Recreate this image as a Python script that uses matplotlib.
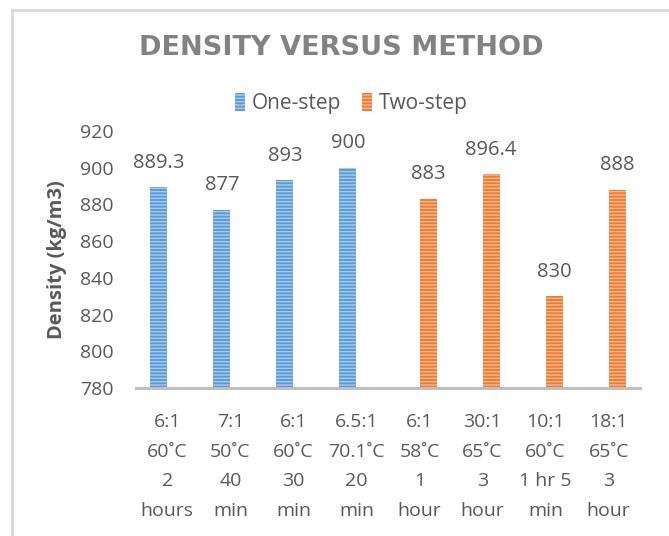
import matplotlib.pyplot as plt
import numpy as np

categories = ['6:1\n60˚C\n2\nhours', '7:1\n50˚C\n40\nmin', '6:1\n60˚C\n30\nmin',
              '6.5:1\n70.1˚C\n20\nmin', '6:1\n58˚C\n1\nhour', '30:1\n65˚C\n3\nhour',
              '10:1\n60˚C\n1 hr 5\nmin', '18:1\n65˚C\n3\nhour']
one_step = [889.3, 877, 893, 900, np.nan, np.nan, np.nan, np.nan]
two_step = [np.nan, np.nan, np.nan, np.nan, 883, 896.4, 830, 888]
y_ticks = [780, 800, 820, 840, 860, 880, 900, 920]

plt.rcParams['font.family'] = ['Open Sans', 'DejaVu Sans']
plt.rcParams['hatch.linewidth'] = 1.0

fig = plt.figure(figsize=(6.69, 5.36), dpi=100)
ax = fig.add_axes([0.203, 0.276, 0.754, 0.480])

x = np.arange(len(categories))
width = 0.27
text_color = '#595959'

bars1 = ax.bar(x - width / 2, one_step, width, color='#5B9BD5', edgecolor='#A8CBEC',
               hatch='-----', linewidth=0, label='One-step')
bars2 = ax.bar(x + width / 2, two_step, width, color='#ED7D31', edgecolor='#F6B891',
               hatch='-----', linewidth=0, label='Two-step')

# value labels above the bars
for bars, vals in [(bars1, one_step), (bars2, two_step)]:
    for bar, v in zip(bars, vals):
        if np.isnan(v):
            continue
        ax.annotate(f'{v:g}', xy=(bar.get_x() + bar.get_width() / 2, v),
                    xytext=(0, 10.5), textcoords='offset points',
                    ha='center', va='bottom', fontsize=14.5, color=text_color)

ax.set_ylim(780, 920)
ax.set_yticks(y_ticks)
ax.set_xlim(-0.5, len(categories) - 0.5)
ax.set_xticks(x)
ax.set_xticklabels(categories, linespacing=1.83)
ax.tick_params(axis='x', length=0, pad=18, labelsize=14, labelcolor=text_color)
ax.tick_params(axis='y', length=0, pad=16, labelsize=14, labelcolor=text_color)

for side in ['top', 'right', 'left']:
    ax.spines[side].set_visible(False)
ax.spines['bottom'].set_color('#BFBFBF')
ax.spines['bottom'].set_linewidth(2.2)

ax.set_ylabel('Density (kg/m3)', fontsize=14.5, fontweight='bold', color=text_color, labelpad=9)

fig.text(0.51, 0.910, 'DENSITY VERSUS METHOD', ha='center', va='center',
         fontsize=19.5, fontweight='bold', color='#828282', family='DejaVu Sans')

ax.legend(loc='center', bbox_to_anchor=(0.427, 1.105), ncol=2, frameon=False,
          fontsize=15, labelcolor=text_color, handlelength=0.5, handleheight=0.9,
          handletextpad=0.3, columnspacing=1.0)

# chart area border
fig.add_artist(plt.Line2D([0.018, 0.018], [0, 0.981], color='#D9D9D9', lw=2))
fig.add_artist(plt.Line2D([0.018, 1.0], [0.981, 0.981], color='#D9D9D9', lw=2))

fig.savefig('out.png', dpi=100)
